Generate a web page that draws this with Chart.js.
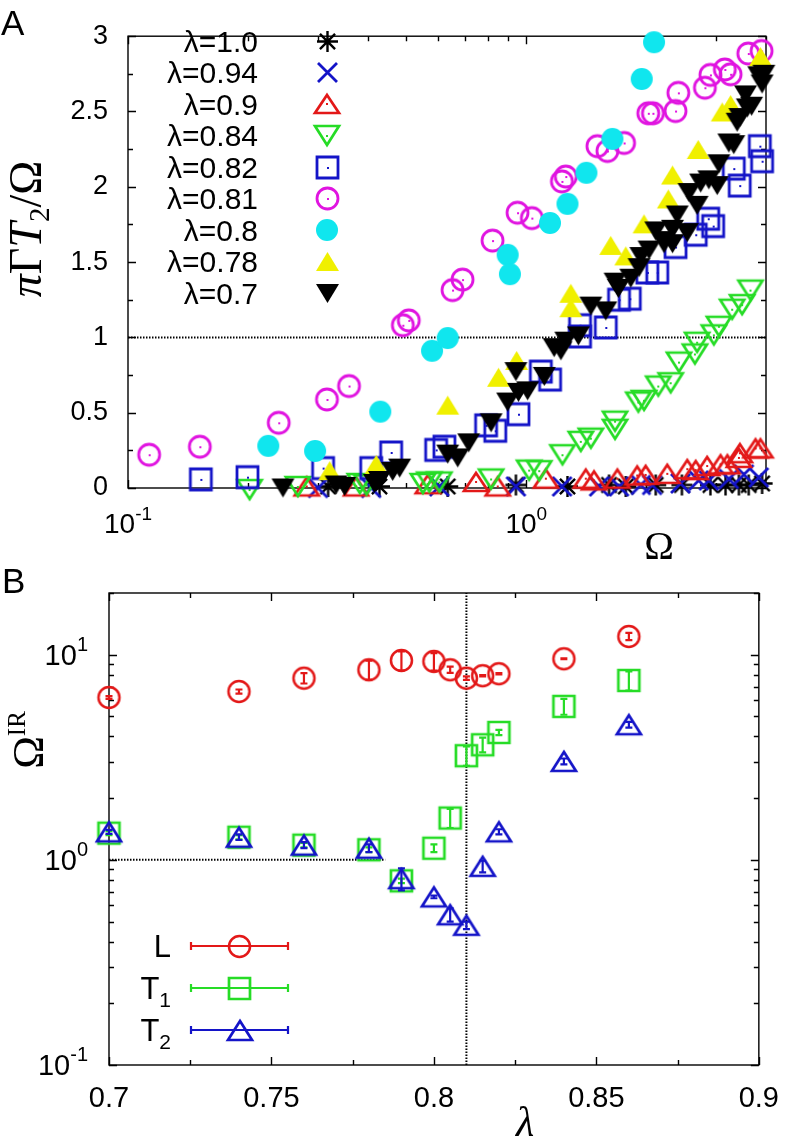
<!DOCTYPE html>
<html>
<head>
<meta charset="utf-8">
<title>Chart</title>
<script src="https://cdn.jsdelivr.net/npm/chart.js@4.4.1/dist/chart.umd.min.js"></script>
<style>
html,body{margin:0;padding:0;background:#fff;}
#wrap{position:relative;width:796px;height:1140px;overflow:hidden;background:#fff;}
#wrap canvas{position:absolute;left:0;}
#chartA{top:0;}
#chartB{top:560px;}
</style>
</head>
<body>
<div id="wrap">
<canvas id="chartA" width="796" height="560"></canvas>
<canvas id="chartB" width="796" height="580"></canvas>
</div>
<script>
// ================= Panel A data =================
const seriesLabelsA = ['λ=1.0','λ=0.94','λ=0.9','λ=0.84','λ=0.82','λ=0.81','λ=0.8','λ=0.78','λ=0.7'];

const omega_l100 = [0.318,0.428,0.635,0.942,1.269,1.614,1.778,2.114,2.46,2.9,3.166,3.42,3.62,3.91];
const rate_l100  = [0.01,0.01,0.01,0.02,0.01,0.02,0.01,0.02,0.02,0.02,0.02,0.02,0.02,0.03];

const omega_l094 = [0.3,0.408,0.605,0.942,1.23,1.524,1.71,1.94,2.07,2.44,2.71,2.874,3.227,3.52,3.837];
const rate_l094  = [0.0,0.0,0.01,0.01,0.01,0.01,0.01,0.02,0.02,0.03,0.05,0.05,0.06,0.09,0.07];

const omega_l090 = [0.281,0.374,0.566,0.748,0.848,1.12,1.411,1.48,1.694,1.9,1.995,2.26,2.537,2.664,2.846,3.076,3.2,3.42,3.44,3.765,3.874];
const rate_l090  = [0.01,0.01,0.025,0.04,0.01,0.062,0.062,0.05,0.062,0.083,0.087,0.094,0.125,0.119,0.146,0.157,0.157,0.2,0.231,0.263,0.263];

const omega_l084 = [0.202,0.267,0.382,0.397,0.55,0.571,0.605,0.816,1.017,1.078,1.233,1.371,1.453,1.671,1.671,1.912,1.976,2.146,2.305,2.418,2.652,2.686,2.959,3.046,3.289,3.484,3.656];
const rate_l084  = [-0.01,0.01,0.03,0.02,0.03,0.04,0.04,0.06,0.119,0.115,0.221,0.31,0.331,0.444,0.39,0.571,0.582,0.677,0.699,0.836,0.89,0.968,1.017,1.074,1.187,1.218,1.314];

const omega_l082 = [0.1524,0.1995,0.309,0.408,0.458,0.594,0.623,0.793,0.836,0.956,1.088,1.148,1.365,1.365,1.584,1.71,1.82,2.014,2.133,2.371,2.664,2.864,2.947,3.32,3.436,3.86,3.91];
const rate_l082  = [0.057,0.072,0.132,0.132,0.236,0.253,0.274,0.416,0.38,0.49,0.773,0.72,1.081,1.006,1.066,1.25,1.257,1.431,1.431,1.6,1.682,1.788,1.739,2.121,2.008,2.27,2.17];

const omega_l081 = [0.113,0.1515,0.239,0.316,0.359,0.49,0.507,0.653,0.692,0.823,0.951,1.033,1.229,1.257,1.509,1.599,1.761,2.025,2.08,2.371,2.41,2.81,2.9,3.153,3.26,3.61,3.9];
const rate_l081  = [0.221,0.274,0.433,0.588,0.677,1.081,1.113,1.314,1.384,1.643,1.828,1.792,2.036,2.068,2.27,2.238,2.291,2.488,2.488,2.503,2.624,2.658,2.743,2.779,2.747,2.885,2.902];

const omega_l080 = [0.225,0.295,0.43,0.58,0.635,0.898,0.91,1.147,1.269,1.416,1.646,1.95,2.094];
const rate_l080  = [0.28,0.246,0.507,0.911,0.996,1.548,1.42,1.76,1.887,2.093,2.318,2.716,2.96];

const omega_l078 = [0.321,0.42,0.635,0.852,0.946,1.294,1.294,1.63,1.778,1.976,2.274,2.33,2.703,3.105,3.26,3.874];
const rate_l078  = [0.115,0.157,0.55,0.735,0.847,1.293,1.197,1.611,1.541,1.754,1.919,2.078,2.248,2.497,2.546,2.864];

const omega_l070 = [0.245,0.333,0.35,0.416,0.428,0.462,0.481,0.635,0.673,0.717,0.816,0.898,0.942,0.956,1.008,1.11,1.175,1.222,1.257,1.352,1.453,1.584,1.671,1.703,1.83,1.92,1.94,2.034,2.114,2.218,2.218,2.33,2.33,2.394,2.537,2.562,2.686,2.741,2.874,3.017,3.046,3.227,3.32,3.385,3.44,3.553,3.59,3.68,3.837,3.91,3.95];
const rate_l070  = [0,0.02,0.01,0.03,0.05,0.11,0.132,0.225,0.2,0.3,0.433,0.571,0.773,0.635,0.645,0.741,0.932,0.911,0.975,1.01,1.208,1.176,1.367,1.325,1.393,1.463,1.537,1.58,1.707,1.622,1.643,1.622,1.718,1.813,1.696,1.962,1.877,2.025,2.046,2.008,2.153,2.291,2.28,2.429,2.46,2.61,2.524,2.535,2.737,2.683,2.747];

// tick values; log labels are written as base 10 with the exponent raised
const xTicksA = [0.1, 1];
const xTickExpA = ['-1', '0'];
const yTicksA = [0, 0.5, 1, 1.5, 2, 2.5, 3];
const yTickLabelsA = ['0', '0.5', '1', '1.5', '2', '2.5', '3'];
const refLineA_x = [0.1, 4];
const refLineA_y = [1, 1];

// ================= Panel B data =================
const lambdaB   = [0.70,0.74,0.76,0.78,0.79,0.80,0.805,0.81,0.815,0.82,0.84,0.86];
const omegaIR_L  = [6.19,6.62,7.69,8.45,9.38,9.28,8.45,7.69,7.9,8.08,9.56,12.28];
const errIR_L    = [0.1,0.15,0.45,0.9,1.0,0.9,0.3,0.15,0.05,0.05,0.05,0.5];
const omegaIR_T1 = [1.35,1.29,1.18,1.12,0.79,1.14,1.6,3.22,3.64,4.18,5.6,7.49];
const errIR_T1   = [0.03,0.03,0.03,0.03,0.02,0.05,0.17,0.35,0.3,0.12,0.5,0.8];
const omegaIR_T2 = [1.37,1.29,1.18,1.14,0.81,0.66,0.54,0.48,0.93,1.37,3.02,4.56];
const errIR_T2   = [0.03,0.04,0.04,0.05,0.1,0.01,0.04,0.02,0.06,0.04,0.1,0.15];
const seriesLabelsB = ['L', 'T1', 'T2'];

const xTicksB = [0.7, 0.75, 0.8, 0.85, 0.9];
const xTickLabelsB = ['0.7', '0.75', '0.8', '0.85', '0.9'];
const yTicksB = [0.1, 1, 10];
const yTickExpB = ['-1', '0', '1'];
const refLineB1_x = [0.7, 0.785];
const refLineB1_y = [1, 1];
const refLineB2_x = [0.81, 0.81];
const refLineB2_y = [0.1, 20];

// ================= helpers =================
const SANS = '"Liberation Sans", Arial, sans-serif';
const SERIF = '"Liberation Serif", "Times New Roman", serif';
const pts = (xs, ys) => xs.map((x, i) => ({ x: x, y: ys[i] }));

function makeMarker(kind, color, w, h, lw, dot) {
  const m = Math.ceil(lw * 2 + 4);
  const W = Math.ceil(w) + m * 2, H = Math.ceil(h) + m * 2;
  const c = document.createElement('canvas');
  c.width = W; c.height = H;
  const g = c.getContext('2d');
  const cx = W / 2, cy = H / 2, rx = w / 2, ry = h / 2;
  g.strokeStyle = color; g.fillStyle = color; g.lineWidth = lw; g.lineJoin = 'miter';
  g.beginPath();
  if (kind === 'circle' || kind === 'disc') g.arc(cx, cy, rx, 0, Math.PI * 2);
  else if (kind === 'square') g.rect(cx - rx, cy - ry, w, h);
  else if (kind === 'tri' || kind === 'ftri') { g.moveTo(cx, cy - ry); g.lineTo(cx + rx, cy + ry); g.lineTo(cx - rx, cy + ry); g.closePath(); }
  else if (kind === 'dtri' || kind === 'fdtri') { g.moveTo(cx, cy + ry); g.lineTo(cx + rx, cy - ry); g.lineTo(cx - rx, cy - ry); g.closePath(); }
  else if (kind === 'cross') { g.moveTo(cx - rx, cy - ry); g.lineTo(cx + rx, cy + ry); g.moveTo(cx + rx, cy - ry); g.lineTo(cx - rx, cy + ry); }
  else if (kind === 'star') {
    const d = rx * 0.72;
    g.moveTo(cx - d, cy - d); g.lineTo(cx + d, cy + d); g.moveTo(cx + d, cy - d); g.lineTo(cx - d, cy + d);
    g.moveTo(cx, cy - ry); g.lineTo(cx, cy + ry); g.moveTo(cx - rx, cy); g.lineTo(cx + rx, cy);
  }
  if (kind === 'disc' || kind === 'ftri' || kind === 'fdtri') g.fill(); else g.stroke();
  if (dot) g.fillRect(Math.round(cx) - 1, Math.round(cy) - 1, 2, 2);
  return c;
}

const RED = '#e31818', GREEN = '#26dc26', BLUE = '#1414c8', MAG = '#e014e0', CYAN = '#10e6ee', YEL = '#f0f000', BLK = '#000000';

const stylesA = [
  makeMarker('star', BLK, 21, 21, 2.4, false),
  makeMarker('cross', BLUE, 19, 19, 2.8, false),
  makeMarker('tri', RED, 24, 18, 2.7, true),
  makeMarker('dtri', GREEN, 24, 19, 2.7, true),
  makeMarker('square', BLUE, 21, 21, 2.8, true),
  makeMarker('circle', MAG, 21, 21, 2.8, true),
  makeMarker('disc', CYAN, 22, 22, 1, false),
  makeMarker('ftri', YEL, 23, 19, 1, false),
  makeMarker('fdtri', BLK, 23, 19, 1, false)
];
const seriesA = [
  pts(omega_l100, rate_l100), pts(omega_l094, rate_l094), pts(omega_l090, rate_l090),
  pts(omega_l084, rate_l084), pts(omega_l082, rate_l082), pts(omega_l081, rate_l081),
  pts(omega_l080, rate_l080), pts(omega_l078, rate_l078), pts(omega_l070, rate_l070)
];

const stylesB = [
  makeMarker('circle', RED, 21, 21, 2.5, false),
  makeMarker('square', GREEN, 21, 21, 2.7, false),
  makeMarker('tri', BLUE, 24, 19, 2.7, false)
];
const colorsB = [RED, GREEN, BLUE];
const seriesB = [pts(lambdaB, omegaIR_L), pts(lambdaB, omegaIR_T1), pts(lambdaB, omegaIR_T2)];
const errorsB = [errIR_L, errIR_T1, errIR_T2];

function drawRich(ctx, parts, x, y, align, rotate) {
  ctx.save();
  ctx.translate(x, y);
  if (rotate) ctx.rotate(-Math.PI / 2);
  let total = 0;
  parts.forEach(p => { ctx.font = p.font; p.w = ctx.measureText(p.t).width; total += p.w; });
  let cx = align === 'right' ? -total : (align === 'center' ? -total / 2 : 0);
  ctx.textAlign = 'left'; ctx.textBaseline = 'alphabetic'; ctx.fillStyle = '#000';
  parts.forEach(p => { ctx.font = p.font; ctx.fillText(p.t, cx, p.dy || 0); cx += p.w; });
  ctx.restore();
}

function powLabel(exp, size) {
  return [{ t: '10', font: size + 'px ' + SANS }, { t: exp, font: Math.round(size * 0.68) + 'px ' + SANS, dy: -Math.round(size * 0.48) }];
}

function makeFramePlugin(cfg) {
  return {
    id: 'frameTicks',
    beforeDatasetsDraw(chart) {
      const { ctx, chartArea: a } = chart;
      const xs = chart.scales.x, ys = chart.scales.y;
      ctx.save();
      ctx.strokeStyle = '#000';
      ctx.lineWidth = 1.4;
      ctx.beginPath();
      const xt = (vals, len) => vals.forEach(v => {
        const p = Math.round(xs.getPixelForValue(v)) + 0.5;
        ctx.moveTo(p, a.bottom); ctx.lineTo(p, a.bottom - len);
        ctx.moveTo(p, a.top); ctx.lineTo(p, a.top + len);
      });
      const yt = (vals, len) => vals.forEach(v => {
        const p = Math.round(ys.getPixelForValue(v)) + 0.5;
        ctx.moveTo(a.left, p); ctx.lineTo(a.left + len, p);
        ctx.moveTo(a.right, p); ctx.lineTo(a.right - len, p);
      });
      xt(cfg.xMajor, 8); xt(cfg.xMinor, 5);
      yt(cfg.yMajor, 8); yt(cfg.yMinor, 5);
      ctx.stroke();
      ctx.strokeRect(a.left, a.top, a.right - a.left, a.bottom - a.top);
      ctx.restore();
    }
  };
}

const logMinors = (lo, hi) => { const r = []; for (let d = lo; d < hi; d *= 10) for (let k = 2; k <= 9; k++) { const v = d * k; if (v <= hi) r.push(v); } return r; };

// ================= Chart A =================
const dsA = seriesA.map((data, i) => ({
  label: seriesLabelsA[i],
  data: data,
  pointStyle: stylesA[i],
  pointRadius: 10,
  pointHoverRadius: 10,
  showLine: false,
  clip: false,
  order: 20 - i,
  legendRow: i
}));
dsA.push({
  label: 'ref',
  data: pts(refLineA_x, refLineA_y),
  showLine: true,
  pointRadius: 0,
  borderColor: '#000',
  borderWidth: 2,
  borderDash: [1.5, 1.5],
  order: 100
});

const textA = {
  id: 'textA',
  afterDraw(chart) {
    const ctx = chart.ctx;
    const xs = chart.scales.x;
    ctx.save();
    ctx.font = '35px ' + SANS; ctx.fillStyle = '#000'; ctx.textAlign = 'left'; ctx.textBaseline = 'alphabetic';
    ctx.fillText('A', 1, 35);
    // legend
    ctx.font = '30px ' + SANS; ctx.textAlign = 'right'; ctx.textBaseline = 'alphabetic';
    chart.data.datasets.forEach(ds => {
      if (ds.legendRow === undefined) return;
      const yy = 41 + ds.legendRow * 31.5;
      ctx.fillText(ds.label, 258, yy + 10.5);
      const im = ds.pointStyle;
      ctx.drawImage(im, Math.round(327 - im.width / 2), Math.round(yy - im.height / 2));
    });
    ctx.restore();
    // log tick labels on x
    xTicksA.forEach((v, i) => drawRich(ctx, powLabel(xTickExpA[i], 28), xs.getPixelForValue(v), 533, 'center', false));
    // axis titles
    drawRich(ctx, [{ t: 'Ω', font: '40px ' + SERIF }], 659, 559, 'center', false);
    drawRich(ctx, [
      { t: 'π', font: 'italic 46px ' + SERIF },
      { t: 'Γ', font: '46px ' + SERIF },
      { t: 'T', font: 'italic 46px ' + SERIF },
      { t: '2', font: '29px ' + SERIF, dy: 8 },
      { t: '/Ω', font: '46px ' + SERIF }
    ], 41, 229, 'center', true);
  }
};

new Chart(document.getElementById('chartA'), {
  type: 'scatter',
  data: { datasets: dsA },
  options: {
    responsive: false,
    animation: false,
    devicePixelRatio: 1,
    layout: { padding: { top: 17, right: 30, bottom: 0, left: 0 } },
    plugins: { legend: { display: false }, tooltip: { enabled: false } },
    events: [],
    scales: {
      x: {
        type: 'logarithmic', min: 0.1, max: 4,
        grid: { display: false, drawTicks: false }, border: { display: false },
        afterFit(s) { s.height = 72; },
        afterBuildTicks(s) { s.ticks = xTicksA.map(v => ({ value: v })); },
        ticks: { display: false, autoSkip: false }
      },
      y: {
        type: 'linear', min: 0, max: 3,
        grid: { display: false, drawTicks: false }, border: { display: false },
        afterFit(s) { s.width = 128; },
        afterBuildTicks(s) { s.ticks = yTicksA.map(v => ({ value: v })); },
        ticks: { autoSkip: false, padding: 20, color: '#000', font: { family: SANS, size: 27 },
          callback: (v, i) => yTickLabelsA[i] }
      }
    }
  },
  plugins: [makeFramePlugin({
    xMajor: [0.1, 1], xMinor: logMinors(0.1, 4),
    yMajor: [0, 0.5, 1, 1.5, 2, 2.5, 3], yMinor: [0.25, 0.75, 1.25, 1.75, 2.25, 2.75]
  }), textA]
});

// ================= Chart B =================
const dsB = seriesB.map((data, i) => ({
  label: seriesLabelsB[i],
  data: data,
  pointStyle: stylesB[i],
  pointRadius: 10,
  pointHoverRadius: 10,
  showLine: false,
  clip: false,
  order: 20 - i,
  errColor: colorsB[i],
  errors: errorsB[i],
  legendRow: i
}));
dsB.push({
  label: 'ref1', data: pts(refLineB1_x, refLineB1_y), showLine: true, pointRadius: 0,
  borderColor: '#000', borderWidth: 2, borderDash: [1.5, 1.5], order: 100
});
dsB.push({
  label: 'ref2', data: pts(refLineB2_x, refLineB2_y), showLine: true, pointRadius: 0,
  borderColor: '#000', borderWidth: 2, borderDash: [1.5, 1.5], order: 101
});

const errorBarsB = {
  id: 'errorBarsB',
  afterDatasetsDraw(chart) {
    const ctx = chart.ctx, xs = chart.scales.x, ys = chart.scales.y;
    ctx.save();
    ctx.lineWidth = 2.2;
    chart.data.datasets.forEach(ds => {
      if (!ds.errors) return;
      ctx.strokeStyle = ds.errColor;
      ctx.beginPath();
      ds.data.forEach((p, i) => {
        const e = ds.errors[i];
        const px = xs.getPixelForValue(p.x);
        const y1 = ys.getPixelForValue(p.y - e), y2 = ys.getPixelForValue(p.y + e);
        ctx.moveTo(px, y1); ctx.lineTo(px, y2);
        ctx.moveTo(px - 3.5, y1); ctx.lineTo(px + 3.5, y1);
        ctx.moveTo(px - 3.5, y2); ctx.lineTo(px + 3.5, y2);
      });
      ctx.stroke();
    });
    ctx.restore();
  }
};

const textB = {
  id: 'textB',
  afterDraw(chart) {
    const ctx = chart.ctx;
    const ys = chart.scales.y;
    ctx.save();
    ctx.font = '35px ' + SANS; ctx.fillStyle = '#000'; ctx.textAlign = 'left'; ctx.textBaseline = 'alphabetic';
    ctx.fillText('B', 2, 33);
    ctx.restore();
    // log tick labels on y
    yTicksB.forEach((v, i) => drawRich(ctx, powLabel(yTickExpB[i], 29), 88, ys.getPixelForValue(v) + 10, 'right', false));
    // legend
    chart.data.datasets.forEach(ds => {
      if (ds.legendRow === undefined) return;
      const yy = 386 + ds.legendRow * 42;
      const lab = ds.label;
      const parts = lab.length > 1
        ? [{ t: lab[0], font: '31px ' + SANS }, { t: lab.slice(1), font: '21px ' + SANS, dy: 8 }]
        : [{ t: lab, font: '31px ' + SANS }];
      drawRich(ctx, parts, 171, yy + 11, 'right', false);
      ctx.save();
      ctx.strokeStyle = ds.errColor; ctx.lineWidth = 2.2;
      ctx.beginPath();
      ctx.moveTo(191, yy); ctx.lineTo(288, yy);
      ctx.moveTo(191, yy - 4); ctx.lineTo(191, yy + 4);
      ctx.moveTo(288, yy - 4); ctx.lineTo(288, yy + 4);
      ctx.stroke();
      const im = ds.pointStyle;
      ctx.drawImage(im, Math.round(239.5 - im.width / 2), Math.round(yy - im.height / 2));
      ctx.restore();
    });
    // axis titles
    drawRich(ctx, [{ t: 'λ', font: 'italic 42px ' + SERIF }], 525, 576, 'center', false);
    drawRich(ctx, [
      { t: 'Ω', font: '44px ' + SERIF },
      { t: 'IR', font: '25px ' + SERIF, dy: -18 }
    ], 43, 180, 'center', true);
  }
};

new Chart(document.getElementById('chartB'), {
  type: 'scatter',
  data: { datasets: dsB },
  options: {
    responsive: false,
    animation: false,
    devicePixelRatio: 1,
    layout: { padding: { top: 33, right: 29, bottom: 0, left: 0 } },
    plugins: { legend: { display: false }, tooltip: { enabled: false } },
    events: [],
    scales: {
      x: {
        type: 'linear', min: 0.7, max: 0.9,
        grid: { display: false, drawTicks: false }, border: { display: false },
        afterFit(s) { s.height = 75; },
        afterBuildTicks(s) { s.ticks = xTicksB.map(v => ({ value: v })); },
        ticks: { autoSkip: false, maxRotation: 0, padding: 17, color: '#000', font: { family: SANS, size: 29 },
          callback: (v, i) => xTickLabelsB[i] }
      },
      y: {
        type: 'logarithmic', min: 0.1, max: 20,
        grid: { display: false, drawTicks: false }, border: { display: false },
        afterFit(s) { s.width = 109; },
        afterBuildTicks(s) { s.ticks = yTicksB.map(v => ({ value: v })); },
        ticks: { display: false, autoSkip: false }
      }
    }
  },
  plugins: [makeFramePlugin({
    xMajor: [0.7, 0.75, 0.8, 0.85, 0.9], xMinor: [0.725, 0.775, 0.825, 0.875],
    yMajor: [0.1, 1, 10], yMinor: logMinors(0.1, 20)
  }), errorBarsB, textB]
});
</script>
</body>
</html>
